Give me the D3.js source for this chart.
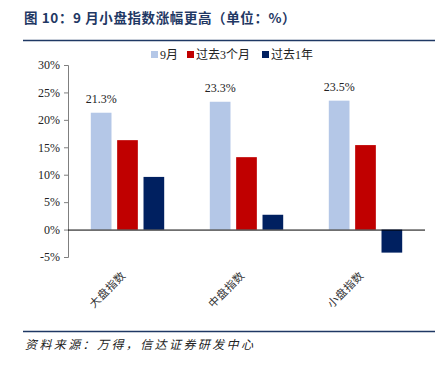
<!DOCTYPE html>
<html>
<head>
  <meta charset="utf-8">
  <title>9月小盘指数涨幅更高</title>
  <style>
    body { margin: 0; padding: 0; background: #fff; }
    svg text { font-family: "Liberation Serif", "Noto Sans CJK SC", serif; }
    .title { font-family: "Noto Sans CJK SC", sans-serif; font-weight: bold; fill: #1f3864; font-size: 13.5px; letter-spacing: 0.6px; }
    .source { font-family: "Noto Sans CJK SC", sans-serif; font-style: italic; font-size: 12px; fill: #222; letter-spacing: 2.4px; }
    .axis text { font-size: 12px; fill: #222; }
    .legend text { font-size: 12px; fill: #222; }
    .xlabel { font-family: "Noto Sans CJK SC", sans-serif; font-size: 11px; fill: #333; letter-spacing: 0.5px; }
    .vlabel { font-size: 12px; fill: #222; }
  </style>
</head>
<body>
<div id="chart"></div>
<script src="https://d3js.org/d3.v7.min.js"></script>
<script>
  // ---- data ----
  var categories = ["大盘指数", "中盘指数", "小盘指数"]
  var seriesNames = ["9月", "过去3个月", "过去1年"]
  var seriesColors = ["#b4c7e7", "#c00000", "#002060"]
  var sep = [21.3, 23.3, 23.5]
  var threeMonth = [16.3, 13.2, 15.4]
  var oneYear = [9.6, 2.7, -4.2]
  var yTicks = [-5, 0, 5, 10, 15, 20, 25, 30]

  var values = [sep, threeMonth, oneYear]

  var width = 443, height = 369
  var plotLeft = 68, plotRight = 425, plotTop = 65, plotBottom = 257

  var svg = d3.select("#chart").append("svg")
      .attr("width", width)
      .attr("height", height)

  // title + rules
  svg.append("text").attr("class", "title")
      .attr("x", 24).attr("y", 23)
      .text("图 10：9 月小盘指数涨幅更高（单位：%）")
  svg.append("line").attr("x1", 23).attr("x2", 435).attr("y1", 40.5).attr("y2", 40.5)
      .attr("stroke", "#1f3864").attr("stroke-width", 1.3)
  svg.append("line").attr("x1", 23).attr("x2", 435).attr("y1", 331.5).attr("y2", 331.5)
      .attr("stroke", "#1f3864").attr("stroke-width", 1.3)
  svg.append("text").attr("class", "source")
      .attr("x", 25).attr("y", 349)
      .text("资料来源：万得，信达证券研发中心")

  // scales
  var y = d3.scaleLinear().domain([-5, 30]).range([plotBottom, plotTop])
  var x0 = d3.scaleBand().domain(categories).range([plotLeft, plotRight]).padding(0)
  var half = 36.7
  var x1 = d3.scaleBand().domain(seriesNames)
      .range([x0.bandwidth() / 2 - half, x0.bandwidth() / 2 + half])
      .paddingInner(0.215)

  // y axis
  var yAxis = svg.append("g").attr("class", "axis")
      .attr("transform", "translate(" + plotLeft + ",0)")
      .call(d3.axisLeft(y).tickValues(yTicks).tickSize(4).tickSizeOuter(4)
        .tickFormat(function (d) { return d + "%" }))
  yAxis.selectAll("path, line").attr("stroke", "#7f7f7f")
  yAxis.selectAll("text").attr("x", -8)

  // bars
  var groups = svg.append("g").selectAll("g")
      .data(categories).enter().append("g")
      .attr("transform", function (d) { return "translate(" + x0(d) + ",0)" })

  groups.selectAll("rect")
      .data(function (d, i) {
        return seriesNames.map(function (s, j) { return { s: s, j: j, v: values[j][i] } })
      })
      .enter().append("rect")
      .attr("x", function (d) { return x1(d.s) })
      .attr("width", x1.bandwidth())
      .attr("y", function (d) { return y(Math.max(0, d.v)) })
      .attr("height", function (d) { return Math.abs(y(d.v) - y(0)) })
      .attr("fill", function (d) { return seriesColors[d.j] })

  // value labels for 9月
  groups.append("text").attr("class", "vlabel")
      .attr("text-anchor", "middle")
      .attr("x", x1(seriesNames[0]) + x1.bandwidth() / 2)
      .attr("y", function (d, i) { return y(sep[i]) - 10 })
      .text(function (d, i) { return sep[i].toFixed(1) + "%" })

  // zero line
  svg.append("line").attr("x1", plotLeft).attr("x2", plotRight)
      .attr("y1", y(0) + 0.5).attr("y2", y(0) + 0.5)
      .attr("stroke", "#000").attr("stroke-width", 1)

  // x labels rotated
  svg.append("g").selectAll("text")
      .data(categories).enter().append("text")
      .attr("class", "xlabel")
      .attr("text-anchor", "end")
      .attr("transform", function (d) {
        return "translate(" + (x0(d) + x0.bandwidth() / 2 - 1) + "," + 276 + ") rotate(-45)"
      })
      .text(function (d) { return d })

  // legend
  var legendX = [151, 187, 262]
  var legend = svg.append("g").attr("class", "legend")
      .selectAll("g").data(seriesNames).enter().append("g")
      .attr("transform", function (d, i) { return "translate(" + legendX[i] + ",50)" })
  legend.append("rect").attr("width", 7).attr("height", 7).attr("y", 1)
      .attr("fill", function (d, i) { return seriesColors[i] })
  legend.append("text").attr("x", 9).attr("y", 9).text(function (d) { return d })
</script>
</body>
</html>
